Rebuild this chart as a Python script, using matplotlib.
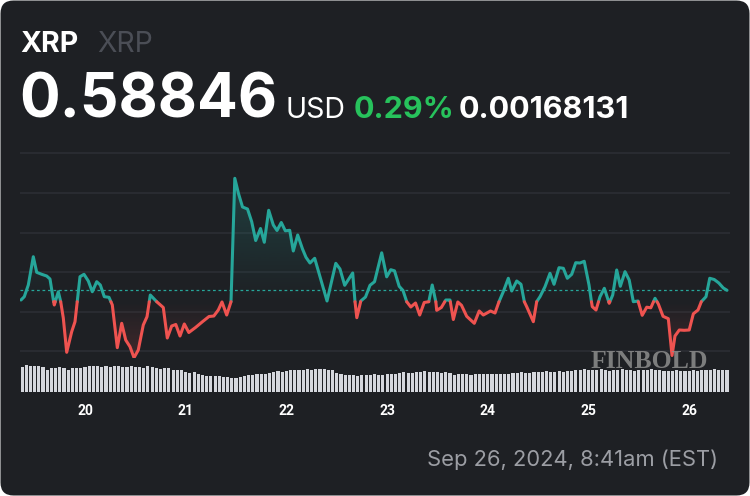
import numpy as np
import matplotlib
matplotlib.use("Agg")
import matplotlib.pyplot as plt
from matplotlib.patches import FancyBboxPatch, PathPatch
from matplotlib.path import Path
from matplotlib.transforms import IdentityTransform

# ---------------- data ----------------
# hours since Sep 20 00:00
hours = [-15.25, -14.47, -13.51, -12.32, -11.51, -10.32, -9.13, -8.34, -7.56, -7.32,
         -6.36, -5.79, -5.17, -4.36, -3.17, -2.38, -1.19, -0.24, 0.79, 1.74,
         2.79, 3.65, 4.60, 5.72, 6.51, 7.70, 8.75, 9.70, 10.72, 11.68,
         12.70, 13.89, 14.78, 15.56, 17.09, 18.66, 19.61, 20.66, 21.64, 22.64,
         23.67, 24.74, 26.34, 28.00, 29.55, 30.70, 31.77, 32.65, 33.77, 34.80,
         35.70, 36.58, 37.54, 38.73, 39.73, 40.68, 41.83, 42.73, 43.78, 44.88,
         45.76, 46.78, 47.74, 48.79, 49.64, 50.69, 51.84, 52.67, 53.62, 54.74,
         56.01, 57.68, 59.77, 60.77, 61.89, 63.80, 64.35, 64.78, 65.73, 66.85,
         67.92, 69.00, 70.71, 71.90, 72.88, 73.76, 74.88, 75.79, 76.67, 77.65,
         78.77, 79.77, 80.84, 81.94, 82.75, 83.61, 83.82, 84.92, 85.99, 86.99,
         87.78, 88.85, 89.73, 90.97, 92.78, 93.95, 94.93, 96.64, 97.72, 98.67,
         99.69, 100.89, 101.70, 102.89, 103.91, 104.70, 105.27, 106.85, 107.65, 108.44,
         109.63, 110.82, 111.78, 112.97, 114.00, 114.95, 116.00, 116.95, 117.97, 118.98,
         120.12, 120.71, 120.90, 121.79, 122.74, 123.77, 124.93, 125.77, 126.72, 127.58,
         128.70, 129.70, 130.68, 131.80, 132.80, 133.87, 134.85, 135.85, 136.64, 137.76,
         139.02, 139.90, 140.61, 141.64, 142.81, 144.00, 144.98, 146.10, 146.88, 148.00,
         148.89, 149.96, 151.05, 152.12, 153.01]
prices = [0.58291, 0.58375, 0.58671, 0.59387, 0.58992, 0.58942, 0.58899, 0.58823, 0.58291, 0.58165,
          0.58501, 0.58248, 0.57835, 0.56967, 0.57489, 0.57742, 0.58881, 0.58942, 0.58772, 0.58501,
          0.58754, 0.58671, 0.58375, 0.58359, 0.58165, 0.57084, 0.57701, 0.57278, 0.57109, 0.56830,
          0.57025, 0.57658, 0.57868, 0.58418, 0.58248, 0.58101, 0.57329, 0.57633, 0.57671, 0.57380,
          0.57684, 0.57468, 0.57595, 0.57742, 0.57873, 0.57886, 0.58038, 0.58241, 0.57911, 0.58248,
          0.61372, 0.60987, 0.60646, 0.60595, 0.60273, 0.59797, 0.60101, 0.59752, 0.60562, 0.60190,
          0.60051, 0.60253, 0.60043, 0.60056, 0.59532, 0.59937, 0.59582, 0.59372, 0.59228, 0.59347,
          0.58881, 0.58266, 0.59220, 0.59076, 0.58663, 0.58975, 0.58248, 0.57843, 0.58266, 0.58367,
          0.58663, 0.58754, 0.59486, 0.58878, 0.59058, 0.59030, 0.58638, 0.58532, 0.58248, 0.58114,
          0.58215, 0.57911, 0.58228, 0.58248, 0.58671, 0.58248, 0.58030, 0.58101, 0.58291, 0.58291,
          0.57797, 0.58241, 0.58157, 0.57878, 0.57701, 0.58013, 0.57911, 0.58013, 0.57962, 0.58248,
          0.58501, 0.58841, 0.58519, 0.58772, 0.58689, 0.58248, 0.58122, 0.57742, 0.58248, 0.58375,
          0.58628, 0.58967, 0.58689, 0.59109, 0.59094, 0.58841, 0.58942, 0.59235, 0.59228, 0.59271,
          0.58671, 0.58241, 0.58122, 0.58038, 0.58375, 0.58587, 0.58208, 0.58418, 0.59051, 0.58638,
          0.59008, 0.58797, 0.58248, 0.58266, 0.57904, 0.58109, 0.58094, 0.58334, 0.58190, 0.57878,
          0.57818, 0.56886, 0.57380, 0.57532, 0.57524, 0.57532, 0.57942, 0.58038, 0.58248, 0.58375,
          0.58841, 0.58810, 0.58722, 0.58595, 0.58537]
open_price = 0.58248          # colour threshold (period open)

# hourly volume (arbitrary units)
volume_start_hour = -15
volumes = [24.5, 26.5, 25.5, 25.5, 25.5, 24.5, 21.8, 23.8, 23.8, 24.5, 23.8, 21.8, 23.8, 23.8,
           23.8, 24.5, 25.5, 25.5, 25.5, 24.5, 25.5, 24.5, 25.5, 25.5, 24.5, 24.5, 25.5, 24.5,
           25.0, 24.0, 25.5, 24.5, 23.5, 23.0, 23.5, 23.5,
           22.0, 21.5, 21.5,
           19.5, 18.5, 19.5,
           17.5, 16.5, 16.0, 16.0, 16.0, 16.0,
           15.0, 14.5, 13.5,
           13.5, 15.0,
           15.5, 17.0, 17.0,
           17.5, 17.5, 17.5, 18.5,
           19.5, 20.5, 20.0, 21.0,
           21.5, 21.5, 22.0, 21.5, 22.5, 22.0, 22.5, 22.5, 22.5, 22.0, 21.5,
           19.0, 17.5, 17.0, 16.5, 16.5, 16.0, 17.0, 16.5,
           17.0, 17.5, 17.0, 16.5, 17.5, 18.0,
           18.0, 18.5, 19.5, 19.0, 18.5, 20.0, 20.0,
           20.5, 19.5, 20.0, 19.5, 19.0, 19.5,
           18.5, 17.0, 17.5, 17.5, 18.0, 17.0, 17.5, 18.0, 17.5,
           17.5, 18.0, 18.0, 17.5, 18.0, 18.0, 18.5, 18.5,
           19.5, 18.5, 19.0, 19.5, 20.0, 20.0, 20.5, 19.5,
           20.0, 20.5, 20.0, 21.0, 21.0, 21.5, 22.0,
           22.5, 22.0, 21.5, 22.0, 22.5, 22.0, 21.0, 21.5, 22.0, 22.5, 22.0, 21.5, 21.0, 21.5,
           22.0, 21.5, 22.5, 22.0, 21.5, 21.0, 20.5, 21.0, 21.5, 21.0, 20.5, 21.0, 21.5, 21.0,
           21.5, 22.0, 22.0, 22.5, 22.0, 22.0, 22.0]

day_ticks = [0, 24, 48, 72, 96, 120, 144]
day_labels = ["20", "21", "22", "23", "24", "25", "26"]
grid_levels = [0.57, 0.58, 0.59, 0.60, 0.61, 0.62]

title_symbol = "XRP"
title_sub = "XRP"
last_price_text = "0.58846"
currency_text = "USD"
change_pct_text = "0.29%"
change_abs_text = "0.00168131"
timestamp_text = "Sep 26, 2024, 8:41am (EST)"
watermark = "FINBOLD"

# ---------------- style ----------------
BG = "#1e2024"
UP = "#26a69a"
DOWN = "#ef5350"
GRID = "#2d2f35"
W, H = 750, 496

fig = plt.figure(figsize=(W / 100, H / 100), dpi=100, facecolor="white")
card = FancyBboxPatch((0.5, 0.5), W - 1, H - 1,
                      boxstyle="round,pad=0,rounding_size=13",
                      transform=IdentityTransform(), facecolor=BG, edgecolor="none",
                      zorder=-10)
fig.add_artist(card)


def fx(px):
    return px / W


def fy(py):
    return 1 - py / H


# data-range mapping in the axes
xmin, xmax = -15.49, 153.72
ymin, ymax = 0.568228, 0.620886

ax = fig.add_axes([fx(20), fy(358), fx(730) - fx(20), fy(150) - fy(358)])
ax.set_facecolor("none")
for s in ax.spines.values():
    s.set_visible(False)
ax.set_yticks(grid_levels)
ax.set_xticks([])
ax.tick_params(left=False, labelleft=False)
ax.grid(axis="y", color=GRID, lw=1.1)
ax.set_axisbelow(True)

h = np.array(hours, float)
p = np.array(prices, float)
thr = open_price

# insert threshold crossings for colour split
hs, ps = [h[0]], [p[0]]
for i in range(1, len(h)):
    if (p[i - 1] - thr) * (p[i] - thr) < 0:
        t = (thr - p[i - 1]) / (p[i] - p[i - 1])
        hs.append(h[i - 1] + t * (h[i] - h[i - 1]))
        ps.append(thr)
    hs.append(h[i])
    ps.append(p[i])
hs = np.array(hs)
ps = np.array(ps)


def gradient_fill(mask, color, a_top, a_bot, y0, y1):
    coll = ax.fill_between(hs, ps, thr, where=mask, interpolate=True,
                           facecolor="none", edgecolor="none")
    paths = coll.get_paths()
    if not paths:
        return
    path = Path.make_compound_path(*paths)
    patch = PathPatch(path, transform=ax.transData, facecolor="none", edgecolor="none")
    ax.add_patch(patch)
    rgb = matplotlib.colors.to_rgb(color)
    n = 256
    grad = np.zeros((n, 1, 4))
    grad[:, 0, :3] = rgb
    grad[:, 0, 3] = np.linspace(a_bot, a_top, n)
    im = ax.imshow(grad, extent=[xmin, xmax, y0, y1], origin="lower",
                   aspect="auto", zorder=1, interpolation="bilinear")
    im.set_clip_path(patch)


gradient_fill(ps >= thr, UP, 0.24, 0.0, thr, p.max())
gradient_fill(ps <= thr, DOWN, 0.0, 0.17, p.min(), thr)

up_line = np.where(ps >= thr, ps, np.nan)
dn_line = np.where(ps <= thr, ps, np.nan)
ax.plot(hs, up_line, color=UP, lw=2.2, solid_joinstyle="round", solid_capstyle="round", zorder=3)
ax.plot(hs, dn_line, color=DOWN, lw=2.2, solid_joinstyle="round", solid_capstyle="round", zorder=3)

ax.axhline(prices[-1], color=UP, lw=0.9, dashes=(2.2, 2.2), zorder=2)
ax.set_xlim(xmin, xmax)
ax.set_ylim(ymin, ymax)

# volume axes
axv = fig.add_axes([fx(20), fy(391.7), fx(730) - fx(20), fy(364) - fy(391.7)])
axv.set_facecolor("none")
for s in axv.spines.values():
    s.set_visible(False)
vh = np.arange(len(volumes)) + volume_start_hour
axv.bar(vh, volumes, width=0.74, color="#d5d7dd", edgecolor="none")
axv.set_xlim(xmin, xmax)
axv.set_ylim(0, 27.7)
axv.set_yticks([])
axv.set_xticks(day_ticks)
axv.set_xticklabels(day_labels, fontfamily="Roboto", fontweight="bold", fontsize=10,
                    color="white")
axv.tick_params(axis="x", length=0, pad=9)

# watermark
fig.text(fx(649), fy(362), watermark, fontfamily="Liberation Serif", fontweight="bold",
         fontsize=18.5, color="#8e8e8e", alpha=0.85, ha="center", va="center", zorder=20)

# header
fig.text(fx(20), fy(52), title_symbol, fontfamily="Inter", fontweight="bold",
         fontsize=20.5, color="white", va="baseline", ha="left")
fig.text(fx(97), fy(52), title_sub, fontfamily="Inter", fontsize=20.5,
         color="#4b4e56", va="baseline", ha="left")
fig.text(fx(19), fy(118), last_price_text, fontfamily="Inter", fontweight="bold",
         fontsize=43.5, color="white", va="baseline", ha="left")
fig.text(fx(286), fy(118), currency_text, fontfamily="Inter", fontsize=20.5,
         color="white", va="baseline", ha="left")
fig.text(fx(354), fy(118), change_pct_text, fontfamily="Inter", fontweight="bold",
         fontsize=22, color="#27c25c", va="baseline", ha="left")
fig.text(fx(459), fy(118), change_abs_text, fontfamily="Inter", fontweight="bold",
         fontsize=22, color="white", va="baseline", ha="left")

fig.text(fx(718), fy(466), timestamp_text, fontfamily="Inter", fontsize=15.8,
         color="#9c9ea4", va="baseline", ha="right")

fig.savefig("out.png", dpi=100, facecolor="white")
